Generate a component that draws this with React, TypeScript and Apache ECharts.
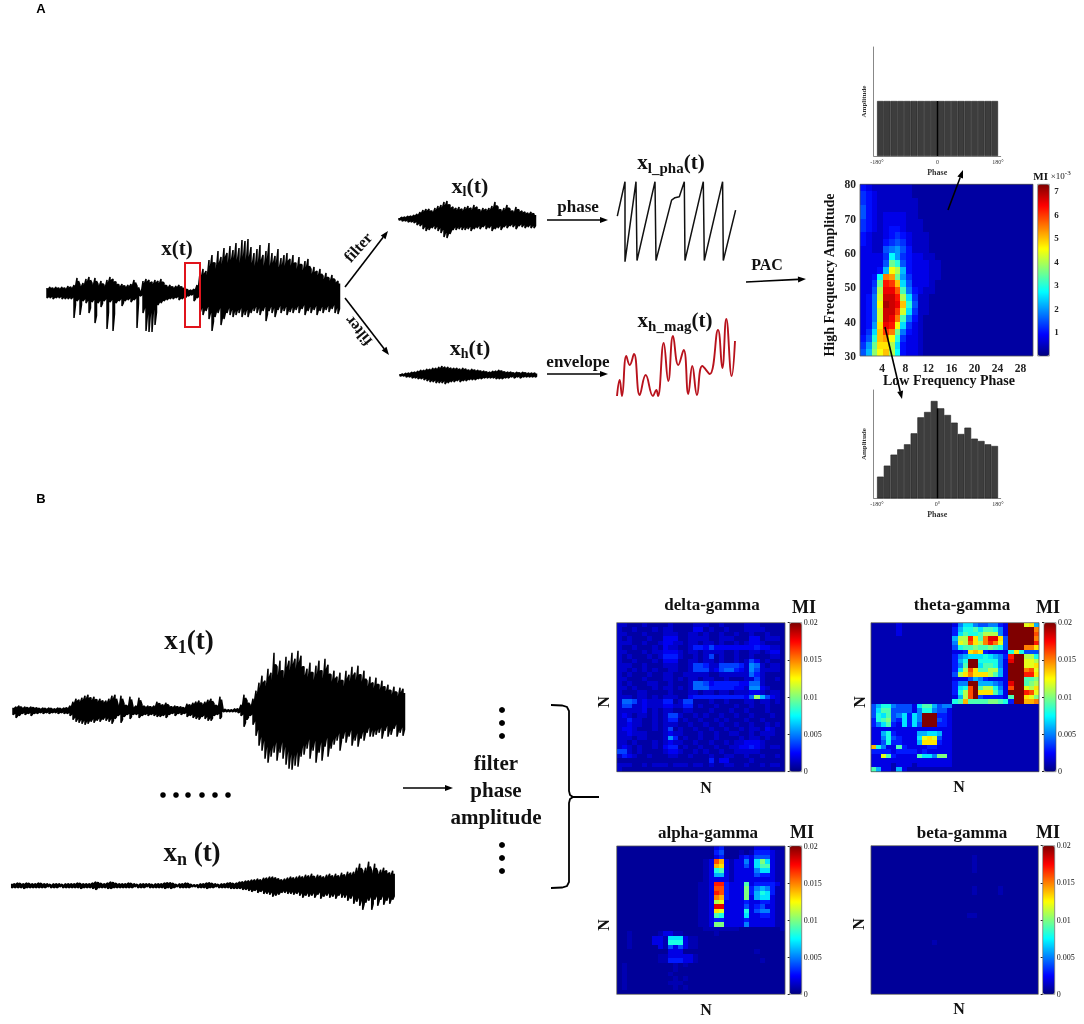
import React, { useEffect, useRef } from "react";
import * as echarts from "echarts";

// ---------- waveform envelopes (amplitude per time column) ----------
const xUp = [5,6,5,6,5,6,5,7,6,8,15,8,10,14,16,10,15,9,12,8,13,16,14,11,8,9,7,8,9,13,7,2,12,14,13,11,13,12,14,10,7,8,6,7,8,6,5,3,3,4,8,
  20,24,22,33,38,30,42,36,45,40,47,43,50,45,53,52,54,46,40,44,48,38,42,50,40,37,44,35,38,40,34,38,30,36,28,32,34,24,26,22,24,17,20,15,18,13,12];
const xDown = [5,5,6,5,5,6,6,6,6,25,8,22,8,10,20,9,30,10,14,8,36,9,38,10,8,13,8,7,9,7,35,3,20,38,39,39,32,12,10,8,7,6,6,5,7,6,5,3,2,8,5,
  20,22,18,26,38,24,20,32,26,20,22,24,22,20,24,22,24,20,18,20,22,18,28,18,20,24,17,20,18,22,19,20,17,20,16,22,18,20,17,22,18,20,17,19,16,20,21];
const xlUp = [1,2,2,3,3,4,5,7,9,10,10,8,11,13,14,17,18,14,12,11,12,10,12,13,11,14,12,9,11,10,11,13,17,12,9,11,14,10,8,12,9,8,7,6,7,5];
const xlDown = [1,2,2,3,3,4,6,7,10,12,11,9,10,12,14,18,19,15,11,11,10,11,11,10,12,10,9,10,8,10,9,12,10,9,11,8,9,7,8,10,7,8,9,8,9,9];
const xhUp = [1,1,2,2,3,3,4,5,5,6,6,7,7,8,9,8,8,7,7,7,6,7,6,5,6,5,5,4,4,3,3,4,4,5,4,3,3,3,2,3,2,3,2,2,2,2];
const xhDown = [1,1,2,2,3,3,4,4,5,6,7,7,8,8,8,9,8,7,7,6,7,6,6,5,5,5,4,4,3,3,3,3,4,4,4,3,3,2,3,2,3,2,2,2,2,2];
const x1Up = [3,4,5,3,4,3,4,3,3,2,3,2,3,2,2,3,2,3,3,5,9,12,11,13,15,16,13,14,11,12,10,10,12,15,16,6,15,7,5,14,4,5,13,6,4,5,4,5,9,7,6,8,5,4,5,4,4,3,7,6,8,9,10,7,9,11,12,7,5,14,2,1,1,1,2,2,6,16,10,6,
  12,20,28,35,30,42,38,58,44,50,40,54,50,58,52,60,55,44,42,48,38,45,50,40,52,46,36,40,34,38,30,40,36,44,38,45,36,40,30,34,28,33,26,30,24,26,20,24,18,23,22];
const x1Down = [4,7,5,3,4,3,5,3,3,2,3,2,3,2,2,3,2,3,3,5,9,11,12,13,14,13,11,12,10,11,9,10,11,13,8,5,12,6,4,8,4,4,7,5,4,5,4,5,6,6,5,7,4,3,5,3,4,3,6,5,7,8,9,6,8,10,10,5,4,8,1,1,1,1,1,2,5,16,9,5,
  14,25,35,40,48,52,46,42,50,42,48,54,58,59,55,56,46,44,38,48,40,52,42,50,36,46,38,34,30,40,28,32,26,35,30,36,28,30,22,26,26,24,22,28,20,26,24,18,26,22,25];
const xnUp = [2,2,3,2,2,3,2,2,2,3,2,2,2,1,2,2,2,1,2,2,2,2,3,2,2,2,2,3,4,3,2,2,3,4,3,2,2,2,2,3,2,2,1,2,2,2,2,1,2,2,2,3,3,3,2,1,2,2,3,2,1,1,1,2,2,3,3,2,2,1,2,2,3,3,2,3,4,4,
  5,5,6,6,7,6,8,8,9,9,8,7,6,7,8,9,8,9,10,9,11,10,12,9,11,10,9,11,12,10,12,10,13,11,14,13,14,18,22,15,18,24,15,22,14,16,18,15,13,15];
const xnDown = [2,2,2,2,3,2,2,2,2,2,2,2,1,2,2,2,1,2,2,2,2,2,2,3,2,2,2,3,4,2,2,2,3,3,2,2,2,2,2,2,2,1,2,2,2,1,2,2,2,2,2,3,2,3,2,1,2,2,2,2,1,1,2,2,2,3,2,2,1,2,2,2,2,3,3,3,3,4,
  4,5,6,5,7,6,8,8,9,11,10,9,7,7,8,8,9,8,10,12,10,11,10,12,9,13,11,10,12,11,13,10,12,12,15,13,18,16,20,24,17,15,24,14,20,14,19,15,18,14];

const phaseTime = [0,7.7,7.7,18.7,19.7,37.7,38.7,54.3,57.7,62,67,67.7,86,87,105.3,106,118.3];
const phaseValue = [25,180,-180,180,-175,180,-175,97,108,112,180,-175,180,-175,180,-175,52];
const envTime = [0,2.7,5,9.3,12.7,17,22.7,28.7,36,39.3,41,46.7,51.3,56,61.3,66.7,71.3,75.3,80,85.3,92.7,101,105.3,109.3,114.7,118];
const envLevel = [2,18,2,42,33,44,3,23,2,8,2,55,17,62,33,48,4,32,3,32,24,68,30,79,22,57];

// ---------- phase histograms ----------
const phaseBins = [-170,-150,-130,-110,-90,-70,-50,-30,-10,10,30,50,70,90,110,130,150,170];
const flatAmplitude = [1.64,1.64,1.64,1.64,1.64,1.64,1.64,1.64,1.64,1.64,1.64,1.64,1.64,1.64,1.64,1.64,1.64,1.64];
const peakAmplitude = [0.65,0.98,1.31,1.47,1.62,1.95,2.43,2.59,2.92,2.7,2.5,2.27,1.93,2.12,1.79,1.72,1.62,1.57];

// ---------- comodulogram: one character per cell, base-36, in quarter units of MI x 10^-3 ----------
const comodRows = [
  "4322222221 1111111111 1111111111",
  "5432222221 1111111111 1111111111",
  "5432222222 1111111111 1111111111",
  "6432222222 1111111111 1111111111",
  "6432333322 1111111111 1111111111",
  "5432333322 2111111111 1111111111",
  "5432344322 2111111111 1111111111",
  "4322345432 2211111111 1111111111",
  "4322456532 2211111111 1111111111",
  "3322678642 2211111111 1111111111",
  "33335b8543 3221111111 1111111111",
  "33336ec643 3322111111 1111111111",
  "33349ig943 3322111111 1111111111",
  "334bmle853 3322111111 1111111111",
  "335epoka63 3321111111 1111111111",
  "336gqqnd74 3221111111 1111111111",
  "347hrrpga5 2211111111 1111111111",
  "347isrqkc6 2211111111 1111111111",
  "347hrroha5 2211111111 1111111111",
  "347hrqmd74 2111111111 1111111111",
  "348jqpia53 2111111111 1111111111",
  "35akome743 2111111111 1111111111",
  "46cklic533 2111111111 1111111111",
  "58ejjga433 2111111111 1111111111",
  "69fikgb433 2111111111 1111111111",
];

// ---------- MI matrices: one character per cell, base-36, in units of 0.001 ('.' = 0.0005) ----------
const deltaRows = [
  "22111211 11211112 22112111 12221111",
  "21121112 12211113 31211211 12222111",
  "22111211 12221122 12112112 11211211",
  "21211121 13331122 22112221 11331222",
  "22211211 23322122 12212112 12332111",
  "21121112 13221124 43533333 33343322",
  "22111212 23332122 12222112 11221233",
  "21211121 24442112 12512112 11211122",
  "21121112 13331122 12212112 12531211",
  "22211211 12221125 54225555 42762122",
  "22121212 11221125 55235664 32752222",
  "21211121 12211222 22112222 22642111",
  "22111211 12212122 12211211 12252112",
  "21211122 11211126 65344444 33662111",
  "22121112 12212126 66444443 32773211",
  "21112211 11211122 12212212 22332122",
  "22212212 12221134 44444444 436e8532",
  "26652322 24412551 11211211 12212212",
  "25522322 23322441 21121112 11211211",
  "22222312 12211221 11211121 12111211",
  "23212212 12552112 12112112 11211121",
  "22422112 12441211 21121211 12112111",
  "22322112 12221121 12112112 11211212",
  "23321112 12512112 11211211 21221321",
  "22322211 12322111 21121122 11212221",
  "22212211 12741211 21121111 21221211",
  "22121112 12322112 11211212 23332111",
  "23212112 13441211 21121122 33432122",
  "55212111 12332112 12112112 22221111",
  "24321121 11221121 11211221 12112112",
  "11111111 11111111 11413311 11211111",
  "22211212 22122212 21211221 12112122",
  "21111111 11111111 11111111 11111111",
];
const thetaRows = [
  "1111121111111111 25775445532kkkcd6",
  "1111121111111111 36889799852kkkkkf",
  "1111121111111111 379889bbb52kkkkkg",
  "1111111111111111 6bbhd9fiid4kkkkkf",
  "1111111111111111 5cbgdbfhfc4kkkkkh",
  "1111111111111111 4899a99a984kkkffd",
  "1111111111111111 223ded322228d8444",
  "1111111111111111 35677787653hkkbb8",
  "1111111111111111 368kk888852ikkccb",
  "1111111111111111 359kk799852kkkccd",
  "1111111111111111 37bgd99bb62kkkfgc",
  "1111111111111111 4bdfdddb962kkkhhd",
  "1111111111111111 22246532222kkk99a",
  "1111111111111111 355kk666542ikk9ab",
  "1111111111111111 378gk9bb852gkkcbd",
  "1111111111111111 38bgkddd962kkkhgc",
  "1111111111111111 26bgk4333329kkdca",
  "1111111111111111 89e9999aa983kkeef",
  "4688544427996455 11111111111111111",
  "4799444425885442 11111111111111111",
  "4879457375kkk332 11111111111111111",
  "389a437375kkk432 11111111111111111",
  "3579327374kkk332 11111111111111111",
  "2222222222222222 11111111111111111",
  "2268322226677622 11111111111111111",
  "2258432227cdc422 11111111111111111",
  "2248332226ddd322 11111111111111111",
  "e852293222233222 11111111111111111",
  "3333233332322222 11111111111111111",
  "22c9322229775aa2 11111111111111111",
  "2222222222222222 11111111111111111",
  "2222122212222222 11111111111111111",
  "9622162111111111 11111111111111111",
];
const alphaRows = [
  "........ ........ ...23... ...222...",
  "........ ........ ...34... 1.1333211",
  "........ ........ ...23... 232444211",
  "........ ........ .12ge212 2527a7211",
  "........ ........ .12ed212 242799211",
  "........ ........ .1289212 222577211",
  "........ ........ .1266212 222433211",
  "........ ........ .1222212 222222211",
  "........ ........ 112hh322 292333321",
  "........ ........ 112gg322 2a3565311",
  "........ ........ 112hg322 2a3687311",
  "........ ........ 112fe322 2a2677211",
  "........ ........ 112bc222 232233211",
  "........ ........ 112ii222 242342211",
  "........ ........ 112dc222 282455211",
  "........ ........ 11298222 272233211",
  "........ ........ 11233222 232222211",
  "........ ........ 112aa222 252222211",
  "........ ........ .1111111 ........1",
  "..1..... 12211... ...1.... .........",
  "..1....2 21777211 ........ .........",
  "..1....2 21888211 ........ .........",
  "..1..... 21424211 ........ .........",
  "........ ..222... ........ ...1.....",
  "........ 11222221 ........ .........",
  "........ 11333221 ........ ....1....",
  ".1...... ...1.1.. ........ .........",
  ".1...... ...1.... ........ .........",
  ".1...... ..1..... ........ .........",
  ".1...... ...1.1.. ........ .........",
  ".1...... ..111... ........ .........",
  ".1...... ...1.1.. ........ .........",
  "........ ........ ........ .........",
];
const blankRow = ".................................";
const betaRows = [
  blankRow, blankRow,
  "....................1............",
  "....................1............",
  "....................1............",
  "....................1............",
  blankRow, blankRow, blankRow,
  "....................1....1.......",
  "....................1....1.......",
  blankRow, blankRow, blankRow, blankRow,
  "...................11............",
  blankRow, blankRow, blankRow, blankRow, blankRow,
  "............1....................",
  blankRow, blankRow, blankRow, blankRow, blankRow, blankRow, blankRow, blankRow, blankRow, blankRow, blankRow,
];

const jet = ["#00007f","#0000ff","#007fff","#00ffff","#7fff7f","#ffff00","#ff7f00","#ff0000","#7f0000"];
const SERIF = '"Liberation Serif", serif';
const INK = "#111";

const parseRows = (rows: string[], n: number, unit: number) =>
  rows.flatMap((row, r) =>
    [...row.replace(/ /g, "").padEnd(n, "1")].map((c, col) => [col, r, c === "." ? 0.0005 : parseInt(c, 36) * unit])
  );
const cats = (n: number) => Array.from({ length: n }, (_, i) => i);
// each column is one full stroke between its envelope values and a return stroke through the dense core
const zigzag = (up: number[], down: number[]) =>
  up.flatMap((u, i) => {
    const d = down[i];
    return [[i, u], [i, -d], [i + 0.5, -Math.min(0.75 * d, 1.5 * u)], [i + 0.5, Math.min(0.8 * u, 1.5 * d)]];
  });
// heat cells snapped to whole pixels so that neighbours tile without seams
const renderCell = (_: any, api: any) => {
  const p = api.coord([api.value(0), api.value(1)]);
  const s = api.size([1, 1]);
  const w = Math.abs(s[0]), h = Math.abs(s[1]);
  const x0 = Math.round(p[0] - w / 2), x1 = Math.round(p[0] + w / 2);
  const y0 = Math.round(p[1] - h / 2), y1 = Math.round(p[1] + h / 2);
  return { type: "rect", shape: { x: x0, y: y0, width: x1 - x0, height: y1 - y0 }, style: { fill: api.visual("color") } };
};

function buildOption() {
  const grid: any[] = [], xAxis: any[] = [], yAxis: any[] = [], series: any[] = [], visualMap: any[] = [], graphic: any[] = [];
  const addGrid = (rect: any, xa: any, ya: any) => {
    grid.push({ ...rect, containLabel: false });
    const i = grid.length - 1;
    xAxis.push({ gridIndex: i, ...xa });
    yAxis.push({ gridIndex: i, ...ya });
    return i;
  };
  const hidden = (min: number, max: number) => ({ type: "value", min, max, show: false, splitLine: { show: false } });

  const wave = (left: number, centre: number, up: number[], down: number[], width: number) => {
    const i = addGrid({ left, width: up.length * 3, top: centre - 60, height: 120 }, hidden(0, up.length), hidden(-60, 60));
    series.push({ type: "line", xAxisIndex: i, yAxisIndex: i, data: zigzag(up, down), symbol: "none", clip: false,
      lineStyle: { color: "#000", width, join: "bevel" }, silent: true });
  };
  wave(47, 293, xUp, xDown, 1.5);
  wave(399, 219, xlUp, xlDown, 1.5);
  wave(400, 375, xhUp, xhDown, 1.5);
  wave(13, 710.7, x1Up, x1Down, 1.5);
  wave(11.7, 885.7, xnUp, xnDown, 1.5);

  const gp = addGrid({ left: 617.3, width: 118.3, top: 181.7, height: 80 }, hidden(0, 118.3), hidden(-180, 180));
  series.push({ type: "line", xAxisIndex: gp, yAxisIndex: gp, data: phaseTime.map((t, i) => [t, phaseValue[i]]),
    symbol: "none", clip: false, lineStyle: { color: "#111", width: 1.5 }, silent: true });
  const ge = addGrid({ left: 617, width: 118, top: 319, height: 79 }, hidden(0, 118), hidden(0, 79));
  series.push({ type: "line", xAxisIndex: ge, yAxisIndex: ge, data: envTime.map((t, i) => [t, envLevel[i]]), smooth: 0.45,
    symbol: "none", clip: false, lineStyle: { color: "#b8121c", width: 1.9 }, silent: true });

  const hist = (top: number, height: number, yMax: number, vals: number[], zero: string, centre: number) => {
    const i = addGrid({ left: 873.7, width: 127, top, height },
      { type: "value", min: -190, max: 188, splitLine: { show: false }, axisTick: { show: false },
        axisLine: { lineStyle: { color: "#888", width: 1 } },
        axisLabel: { customValues: [-180, 0, 180], margin: 3, fontSize: 6, fontFamily: SERIF, color: "#333",
          formatter: (v: number) => (v === 0 ? zero : `${v}°`) },
        name: "Phase", nameLocation: "middle", nameGap: 12,
        nameTextStyle: { fontSize: 8, fontWeight: "bold", fontFamily: SERIF, color: "#333" } },
      { type: "value", min: 0, max: yMax, splitLine: { show: false }, axisTick: { show: false }, axisLabel: { show: false },
        axisLine: { onZero: false, lineStyle: { color: "#888", width: 1 } },
        name: "Amplitude", nameLocation: "middle", nameGap: 6,
        nameTextStyle: { fontSize: 7, fontWeight: "bold", fontFamily: SERIF, color: "#333" } });
    series.push({ type: "bar", xAxisIndex: i, yAxisIndex: i, barWidth: 6.72, silent: true,
      data: phaseBins.map((b, k) => [b, vals[k]]),
      itemStyle: { color: "#3d3d3d", borderColor: "#222", borderWidth: 0.6 },
      markLine: { silent: true, symbol: "none", label: { show: false }, lineStyle: { color: "#000", width: 1.3, type: "solid" },
        data: [[{ xAxis: 0, yAxis: 0 }, { xAxis: 0, yAxis: centre }]] } });
  };
  hist(47, 109, 3.25, flatAmplitude, "0", 1.64);
  hist(390, 108.3, 3.25, peakAmplitude, "0°", 2.7);

  const heat = (left: number, top: number, w: number, h: number, n: number, m: number, data: any[],
    bar: { left: number; width: number }, vmax: number) => {
    const i = addGrid({ left, top, width: w, height: h },
      { type: "category", data: cats(n), show: false },
      { type: "category", data: cats(m), show: false, inverse: true });
    series.push({ type: "custom", xAxisIndex: i, yAxisIndex: i, data, silent: true, renderItem: renderCell,
      encode: { x: 0, y: 1 }, progressive: 0 });
    visualMap.push({ type: "continuous", seriesIndex: series.length - 1, dimension: 2, min: 0, max: vmax, left: bar.left, top,
      itemWidth: bar.width, itemHeight: h, padding: 0, calculable: false, hoverLink: false, realtime: false,
      inRange: { color: jet }, showLabel: false });
    graphic.push({ type: "rect", z: 40, silent: true, shape: { x: left, y: top, width: w, height: h }, style: { fill: "none", stroke: "#555", lineWidth: 0.8 } });
    graphic.push({ type: "rect", z: 40, silent: true, shape: { x: bar.left, y: top, width: bar.width, height: h }, style: { fill: "none", stroke: "#555", lineWidth: 0.6 } });
  };
  const barAxis = (left: number, width: number, top: number, height: number, y: any) =>
    addGrid({ left, width, top, height }, hidden(0, 1),
      { type: "value", position: "right", splitLine: { show: false }, axisLine: { show: false },
        axisTick: { inside: true, length: 2, lineStyle: { color: "#222" } },
        axisLabel: { margin: 2, fontSize: 8, fontFamily: SERIF, color: "#111" }, ...y });

  // comodulogram
  heat(860, 184.3, 173, 171.7, 30, 25, parseRows(comodRows, 30, 0.25), { left: 1037.7, width: 11.6 }, 7.3);
  addGrid({ left: 860, width: 173, top: 184.3, height: 171.7 },
    { type: "value", min: 0.15, max: 30.15, splitLine: { show: false }, axisLine: { show: false }, axisTick: { show: false },
      axisLabel: { customValues: [4, 8, 12, 16, 20, 24, 28], margin: 6, fontSize: 11.5, fontWeight: "bold", fontFamily: SERIF, color: "#222" } },
    { type: "value", min: 30, max: 80, interval: 10, splitLine: { show: false }, axisLine: { show: false }, axisTick: { show: false },
      axisLabel: { margin: 4, fontSize: 11.5, fontWeight: "bold", fontFamily: SERIF, color: "#222" } });
  barAxis(1037.7, 11.6, 184.3, 171.7, { min: 0, max: 7.3,
    axisLabel: { customValues: [1, 2, 3, 4, 5, 6, 7], margin: 5, fontSize: 9, fontWeight: "bold", fontFamily: SERIF, color: "#222" },
    axisTick: { show: false } });

  // MI matrices
  const matrix = (left: number, top: number, w: number, h: number, rows: string[], unit: number, barLeft: number) => {
    heat(left, top, w, h, 33, 33, parseRows(rows, 33, unit), { left: barLeft, width: 12 }, 0.02);
    barAxis(barLeft, 12, top, h, { min: 0, max: 0.02, interval: 0.005 });
  };
  matrix(616.7, 622.7, 168.3, 149, deltaRows, 0.00075, 789.7);
  matrix(871, 622.7, 168, 149, thetaRows, 0.001, 1044);
  matrix(616.7, 846, 168.3, 148.3, alphaRows, 0.001, 789.7);
  matrix(871, 845.7, 167.3, 148.6, betaRows, 0.001, 1042.7);

  // ---------- annotations ----------
  const txt = (x: number, y: number, text: string, size: number, extra: any = {}, rotation = 0) =>
    graphic.push({ type: "text", z: 50, x, y, rotation, silent: true,
      style: { text, align: "center", verticalAlign: "middle", fill: INK, font: `bold ${size}px ${SERIF}`, ...extra } });
  const sub = (x: number, y: number, text: string, size: number, subSize: number) =>
    txt(x, y, text, size, { rich: {
      m: { fontSize: size, fontWeight: "bold", fontFamily: SERIF, color: INK },
      s: { fontSize: subSize, fontWeight: "bold", fontFamily: SERIF, color: INK, padding: [size * 0.55, 0, 0, 0] } } });
  const arrow = (x1: number, y1: number, x2: number, y2: number) => {
    const a = Math.atan2(y2 - y1, x2 - x1), L = 8, W = 3;
    const bx = x2 - L * Math.cos(a), by = y2 - L * Math.sin(a);
    graphic.push({ type: "line", z: 50, silent: true, shape: { x1, y1, x2: bx, y2: by }, style: { stroke: "#000", lineWidth: 1.6 } });
    graphic.push({ type: "polygon", z: 50, silent: true, shape: { points: [[x2, y2],
      [bx - W * Math.sin(a), by + W * Math.cos(a)], [bx + W * Math.sin(a), by - W * Math.cos(a)]] }, style: { fill: "#000" } });
  };
  const dot = (cx: number, cy: number, r: number) =>
    graphic.push({ type: "circle", z: 50, silent: true, shape: { cx, cy, r }, style: { fill: "#000" } });

  txt(41, 8, "A", 13, { font: 'bold 13px "Liberation Sans", sans-serif', fill: "#000" });
  txt(41, 498, "B", 13, { font: 'bold 13px "Liberation Sans", sans-serif', fill: "#000" });
  txt(177, 248, "x(t)", 21);
  sub(470, 185, "{m|x}{s|l}{m|(t)}", 22, 14);
  sub(470, 347, "{m|x}{s|h}{m|(t)}", 22, 14);
  sub(671, 162, "{m|x}{s|l_pha}{m|(t)}", 21, 15);
  sub(675, 320, "{m|x}{s|h_mag}{m|(t)}", 21, 15);
  txt(578, 206, "phase", 17);
  txt(578, 361, "envelope", 17);
  txt(358, 247, "filter", 16, {}, (48 * Math.PI) / 180);
  txt(358, 331, "filter", 16, {}, (130 * Math.PI) / 180);
  txt(767, 264, "PAC", 16);
  txt(949, 380, "Low Frequency Phase", 14);
  txt(829, 275, "High Frequency Amplitude", 14, {}, Math.PI / 2);
  sub(1052, 176, "{m|MI} {n|×10}{t|-3}", 11, 8);
  const last = graphic[graphic.length - 1];
  last.style.rich = {
    m: { fontSize: 11, fontWeight: "bold", fontFamily: SERIF, color: INK },
    n: { fontSize: 9, fontFamily: SERIF, color: INK },
    t: { fontSize: 7, fontFamily: SERIF, color: INK, padding: [0, 0, 6, 0] },
  };
  sub(189, 640, "{m|x}{s|1}{m|(t)}", 27, 18);
  sub(192, 852, "{m|x}{s|n}{m| (t)}", 27, 18);
  txt(496, 763, "filter", 21);
  txt(496, 790, "phase", 21);
  txt(496, 817, "amplitude", 21);
  const panelText = [
    { t: "delta-gamma", tx: 712, ty: 604, mx: 804, my: 607, nx: 706, ny: 787, lx: 603, ly: 702 },
    { t: "theta-gamma", tx: 962, ty: 604, mx: 1048, my: 607, nx: 959, ny: 786, lx: 859, ly: 702 },
    { t: "alpha-gamma", tx: 708, ty: 832, mx: 802, my: 832, nx: 706, ny: 1009, lx: 603, ly: 925 },
    { t: "beta-gamma", tx: 962, ty: 832, mx: 1048, my: 832, nx: 959, ny: 1008, lx: 858, ly: 924 },
  ];
  panelText.forEach((p) => {
    txt(p.tx, p.ty, p.t, 17);
    txt(p.mx, p.my, "MI", 18);
    txt(p.nx, p.ny, "N", 16);
    txt(p.lx, p.ly, "N", 16, {}, Math.PI / 2);
  });

  graphic.push({ type: "rect", z: 51, silent: true, shape: { x: 185, y: 263, width: 15, height: 64 },
    style: { fill: "none", stroke: "#e0141c", lineWidth: 2 } });
  arrow(345, 287, 388, 231);
  arrow(345, 298, 389, 355);
  arrow(547, 220, 608, 220);
  arrow(547, 374, 608, 374);
  arrow(746, 282, 806, 279);
  arrow(948, 210, 963, 170);
  arrow(885, 327, 902, 399);
  arrow(403, 788, 453, 788);
  graphic.push({ type: "polyline", z: 50, silent: true,
    shape: { points: [[551, 705], [562, 705.5], [567, 707], [569, 711], [569, 791], [570, 795], [573, 797], [599, 797]] },
    style: { fill: "none", stroke: "#000", lineWidth: 1.8 } });
  graphic.push({ type: "polyline", z: 50, silent: true,
    shape: { points: [[573, 797], [570, 799], [569, 803], [569, 882], [567, 886], [562, 887.5], [551, 888]] },
    style: { fill: "none", stroke: "#000", lineWidth: 1.8 } });
  [163, 176, 188, 202, 215, 228].forEach((x) => dot(x, 795, 2.8));
  [710, 723, 736, 845, 858, 871].forEach((y) => dot(502, y, 3));

  return { animation: false, backgroundColor: "#fff", tooltip: { show: false }, grid, xAxis, yAxis, series, visualMap, graphic };
}

export default function App() {
  const ref = useRef<HTMLDivElement>(null);
  useEffect(() => {
    const chart = echarts.init(ref.current!, undefined, { renderer: "svg" });
    chart.setOption(buildOption() as any);
    return () => chart.dispose();
  }, []);
  return <div ref={ref} style={{ position: "absolute", left: 0, top: 0, width: 1084, height: 1024, background: "#fff", filter: "blur(0.45px)" }} />;
}
